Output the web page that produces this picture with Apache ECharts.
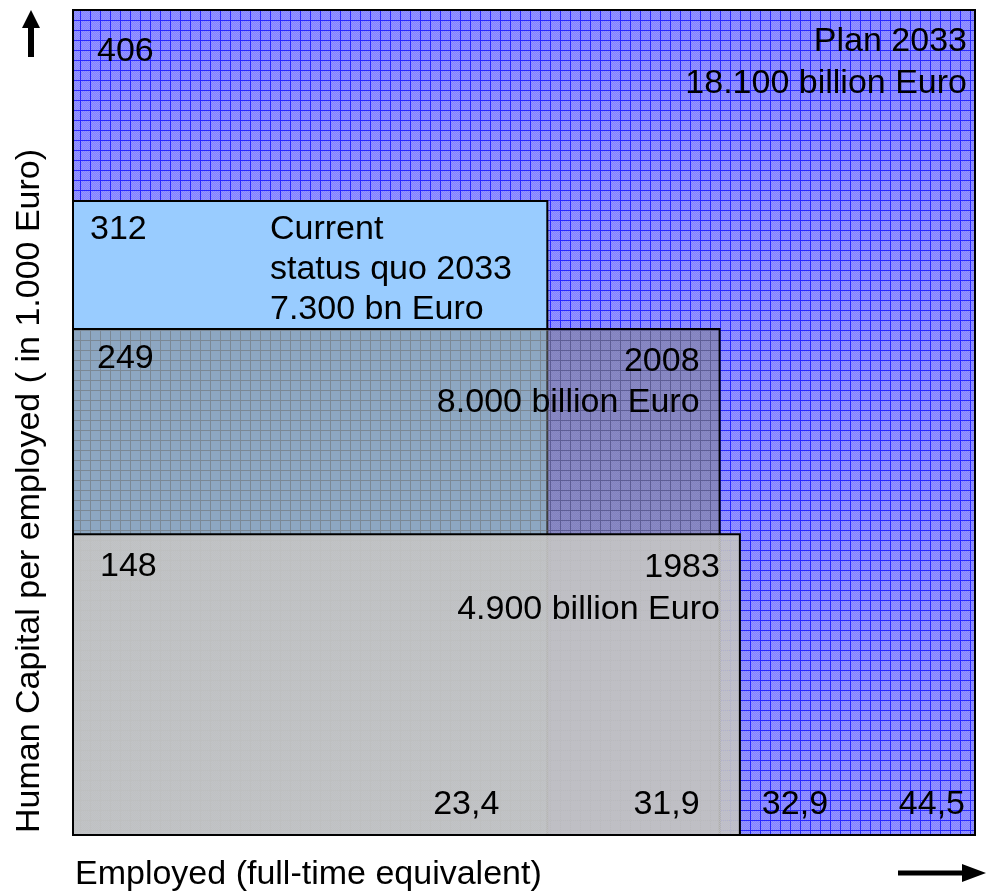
<!DOCTYPE html>
<html>
<head>
<meta charset="utf-8">
<script src="https://cdn.jsdelivr.net/npm/echarts@6/dist/echarts.min.js"></script>
<style>
html,body{margin:0;padding:0;background:#fff;}
#chart{width:990px;height:894px;}
</style>
</head>
<body>
<div id="chart"></div>
<script>
// ---- data ----
const scenarios = ['Plan 2033', 'Current status quo 2033', '2008', '1983'];
const employed = [44.5, 23.4, 31.9, 32.9];            // million, full-time equivalent
const capitalPerEmployed = [406, 312, 249, 148];      // in 1.000 Euro
const employedLabels = ['44,5', '23,4', '31,9', '32,9'];
const capitalLabels = ['406', '312', '249', '148'];
const titleLines = [
  ['Plan 2033', '18.100 billion Euro'],
  ['Current', 'status quo 2033', '7.300 bn Euro'],
  ['2008', '8.000 billion Euro'],
  ['1983', '4.900 billion Euro']
];
const xAxisTitle = 'Employed (full-time equivalent)';
const yAxisTitle = 'Human Capital per employed ( in 1.000 Euro)';

// ---- styling helpers ----
function makePattern(base, dither, line, lineW) {
  const c = document.createElement('canvas');
  c.width = 10; c.height = 10;
  const g = c.getContext('2d');
  g.fillStyle = base; g.fillRect(0, 0, 10, 10);
  if (dither) {
    g.fillStyle = dither;
    for (let i = 0; i < 10; i++) for (let j = 0; j < 10; j++) if ((i + j) % 2 === 0) g.fillRect(i, j, 1, 1);
  }
  if (line) {
    g.fillStyle = line;
    g.fillRect(0, 0, 10, lineW);
    g.fillRect(0, lineW, lineW, 10 - lineW);
  }
  return c;
}
const fills = [
  { image: makePattern('#8282ff', '#9696ff', '#2828ff', 1), repeat: 'repeat' },
  '#99ccff',
  { image: makePattern('rgba(128,128,128,0.48)', null, 'rgba(105,105,105,0.5)', 1), repeat: 'repeat' },
  { image: makePattern('rgba(200,200,200,0.86)', 'rgba(192,192,192,0.86)', null, 0), repeat: 'repeat' }
];
// text layout per rectangle (pixel offsets from rectangle corners)
const layout = [
  { valDx: 24, valDy: 42, titleAlign: 'right', titleDx: -8, titleDy: 32, lineH: 42, empAlign: 'right', empDx: -10 },
  { valDx: 17, valDy: 29, titleAlign: 'left', titleDx: 197, titleDy: 29, lineH: 40, empAlign: 'right', empDx: -48 },
  { valDx: 24, valDy: 30, titleAlign: 'right', titleDx: -20, titleDy: 33, lineH: 41, empAlign: 'right', empDx: -20 },
  { valDx: 27, valDy: 32, titleAlign: 'right', titleDx: -20, titleDy: 33, lineH: 42, empAlign: 'left', empDx: 22 }
];
const FONT = '34px "Liberation Sans", Arial, sans-serif';

const chart = echarts.init(document.getElementById('chart'), null, { renderer: 'canvas' });

const seriesData = scenarios.map((n, i) => ({ name: n, value: [employed[i], capitalPerEmployed[i]] }));

function box(api) {
  const p0 = api.coord([0, 0]);
  const p1 = api.coord([api.value(0), api.value(1)]);
  return { left: p0[0], right: p1[0], top: p1[1], bottom: p0[1] };
}

chart.setOption({
  animation: false,
  backgroundColor: '#ffffff',
  grid: { left: 73, top: 10, width: 902, height: 825, containLabel: false },
  xAxis: { type: 'value', min: 0, max: 44.5, show: false },
  yAxis: { type: 'value', min: 0, max: 406, show: false },
  series: [{
    type: 'custom',
    name: 'areas',
    data: seriesData,
    clip: false,
    z: 2,
    renderItem: function (params, api) {
      const i = params.dataIndex;
      const b = box(api);
      return {
        type: 'rect',
        shape: { x: b.left, y: b.top, width: b.right - b.left, height: b.bottom - b.top },
        style: { fill: fills[i], stroke: '#000', lineWidth: 2 }
      };
    }
  }, {
    type: 'custom',
    name: 'labels',
    data: seriesData,
    clip: false,
    z: 10,
    silent: true,
    renderItem: function (params, api) {
      const i = params.dataIndex;
      const b = box(api);
      const L = layout[i];
      const children = [{
        type: 'text',
        style: { text: capitalLabels[i], x: b.left + L.valDx, y: b.top + L.valDy, font: FONT, fill: '#000', align: 'left', verticalAlign: 'middle' }
      }];
      titleLines[i].forEach((t, k) => {
        children.push({
          type: 'text',
          style: {
            text: t,
            x: L.titleAlign === 'right' ? b.right + L.titleDx : b.left + L.titleDx,
            y: b.top + L.titleDy + k * L.lineH,
            font: FONT, fill: '#000', align: L.titleAlign, verticalAlign: 'middle'
          }
        });
      });
      children.push({
        type: 'text',
        style: { text: employedLabels[i], x: b.right + L.empDx, y: b.bottom - 30, font: FONT, fill: '#000', align: L.empAlign, verticalAlign: 'middle' }
      });
      return { type: 'group', children: children };
    }
  }],
  graphic: [
    { type: 'text', left: 75, top: 858, style: { text: xAxisTitle, font: FONT, fill: '#000' } },
    { type: 'text', x: 30, y: 491, rotation: Math.PI / 2, style: { text: yAxisTitle, font: FONT, fill: '#000', align: 'center', verticalAlign: 'middle' } },
    // up arrow
    { type: 'polygon', shape: { points: [[28, 57], [34, 57], [34, 28], [40, 28], [31, 10], [22, 28], [28, 28]] }, style: { fill: '#000' } },
    // right arrow
    { type: 'polygon', shape: { points: [[898, 870.5], [962, 870.5], [962, 864], [986, 873], [962, 882], [962, 875.5], [898, 875.5]] }, style: { fill: '#000' } }
  ]
});
</script>
</body>
</html>
